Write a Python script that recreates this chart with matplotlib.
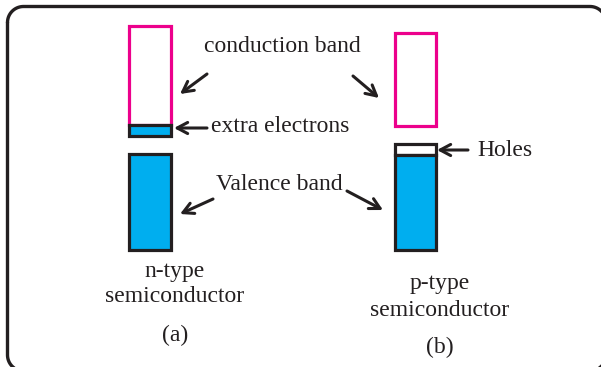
import numpy as np
import matplotlib.pyplot as plt
from matplotlib.patches import Rectangle

# diagram layout in pixel units (y grows downward)
ink = '#231f20'
pink = '#ec008c'
blue = '#00aeef'

# bands: x0, x1, y_top, y_bottom, facecolor, edgecolor
bands = [
    (129, 171, 26, 125, 'white', pink),   # n conduction band
    (129, 171, 125, 136, blue, ink),      # extra electrons
    (129, 171, 154, 250, blue, ink),      # n valence band
    (395, 436, 33, 126, 'white', pink),   # p conduction band
    (395, 436, 144, 155, 'white', ink),   # holes
    (395, 436, 155, 250, blue, ink),      # p valence band
]

# arrows: tail -> head
arrows = [
    ((207, 74), (180, 94)),
    ((353, 76), (379, 98)),
    ((207, 128), (174, 128)),
    ((468, 150), (437, 150)),
    ((213, 199), (180, 214)),
    ((347, 191), (383, 210)),
]

labels = [
    (282, 46, 'conduction band'),
    (280, 127, 'extra electrons'),
    (279, 184, 'Valence band'),
    (505, 151, 'Holes'),
    (175, 271, 'n-type'),
    (175, 297, 'semiconductor'),
    (175, 335, '(a)'),
    (440, 284, 'p-type'),
    (440, 310, 'semiconductor'),
    (440, 347, '(b)'),
]

fig = plt.figure(figsize=(6.01, 3.67), dpi=100)
ax = fig.add_axes([0, 0, 1, 1])
ax.set_xlim(0, 601)
ax.set_ylim(367, 0)
ax.axis('off')

# rounded frame (right and bottom edges fall just outside the picture)
left, top, right, bottom, r = 7.5, 6.5, 606, 371, 16
t = np.linspace(0, np.pi / 2, 20)
xs, ys = [], []
for cx, cy, a0 in [(left + r, top + r, np.pi), (right - r, top + r, 1.5 * np.pi),
                   (right - r, bottom - r, 0), (left + r, bottom - r, 0.5 * np.pi)]:
    xs.extend(cx + r * np.cos(a0 + t))
    ys.extend(cy + r * np.sin(a0 + t))
xs.append(xs[0])
ys.append(ys[0])
ax.plot(xs, ys, color=ink, lw=2.4, clip_on=False, solid_capstyle='round')

for x0, x1, y0, y1, fc, ec in bands:
    ax.add_patch(Rectangle((x0, y0), x1 - x0, y1 - y0, fc=fc, ec=ec, lw=2.3))

for tail, head in arrows:
    ax.annotate('', xy=head, xytext=tail,
                arrowprops=dict(arrowstyle='->,head_length=0.75,head_width=0.4',
                                color=ink, lw=2.2, shrinkA=0, shrinkB=0))

for x, y, s in labels:
    ax.text(x, y, s, ha='center', va='center', fontsize=17,
            family='Liberation Serif', color=ink)

fig.savefig('out.png', dpi=100)
